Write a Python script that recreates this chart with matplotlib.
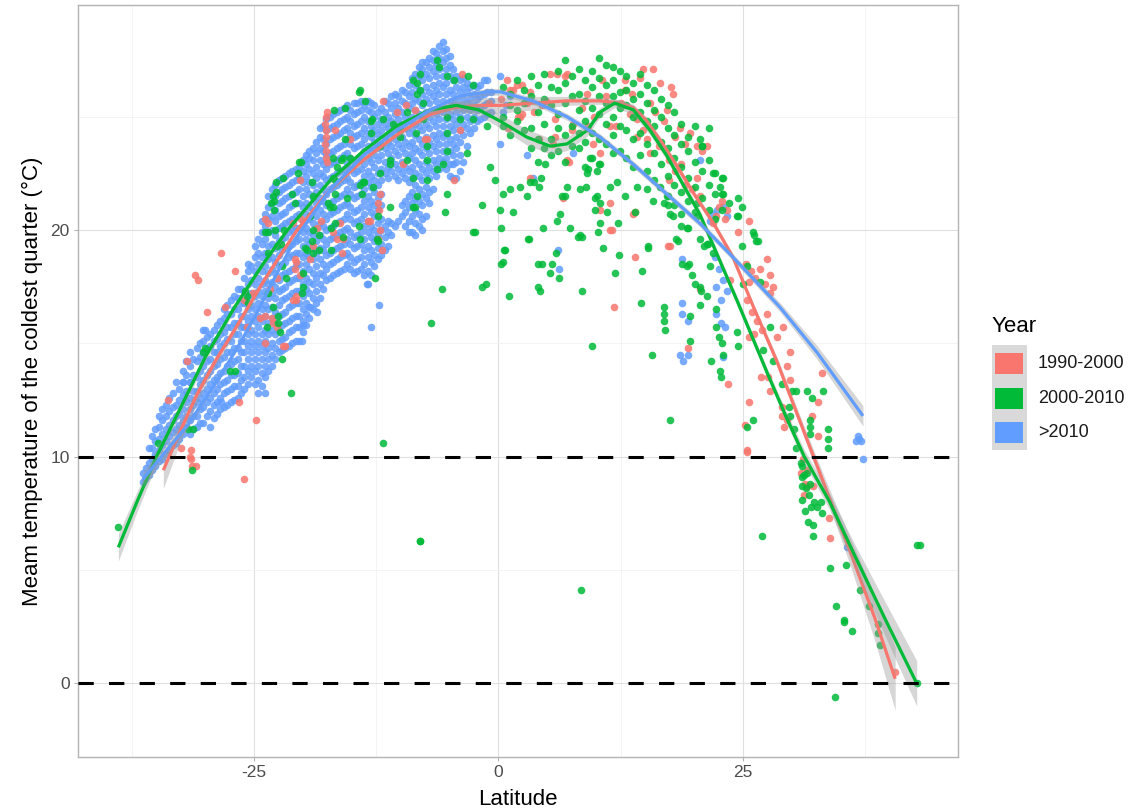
import matplotlib
matplotlib.use("Agg")
import matplotlib.pyplot as plt
from matplotlib.patches import Rectangle

plt.rcParams['font.family'] = ['Liberation Sans', 'DejaVu Sans']
plt.rcParams['axes.unicode_minus'] = False

# ---------------- data ----------------
years = ["1990-2000", "2000-2010", ">2010"]
colors = {"1990-2000": "#F8766D", "2000-2010": "#00BA38", ">2010": "#619CFF"}

x_ticks = [-25, 0, 25]
y_ticks = [0, 10, 20]
x_label = "Latitude"
y_label = "Meam temperature of the coldest quarter (\u00b0C)"
hlines = [0, 10]

# dense >2010 cloud, south of the equator: latitude columns and their temperatures
blue_col_lat = [-36.4, -35.8, -35.1, -34.4, -33.7, -33.0, -32.3, -31.6, -30.9, -30.2,
                -29.5, -28.8, -28.1, -27.4, -26.7, -26.0, -25.3, -24.6, -23.9, -23.2,
                -22.5, -21.8, -21.1, -20.4, -19.7, -19.0, -18.3, -17.6, -16.9, -16.2,
                -15.5, -14.8, -14.1, -13.4, -12.7, -12.0, -11.3, -10.6, -9.9, -9.2,
                -8.5, -7.8, -7.1, -6.4, -5.7, -5.0, -4.3, -3.6, -2.9, -2.2, -1.5, -0.8]
blue_col_temps = [
    [8.9, 9.3],
    [9.2, 9.7, 10.4],
    [9.6, 10.1, 10.7, 11.2],
    [9.9, 10.5, 11.0, 11.6, 12.1],
    [10.3, 10.9, 11.4, 12.0, 12.6],
    [10.6, 11.2, 11.8, 12.3, 13.3],
    [11.0, 11.6, 12.1, 12.7, 13.3, 13.8],
    [11.0, 11.6, 12.1, 12.6, 13.3, 14.0, 14.6],
    [11.3, 11.8, 12.4, 12.9, 13.5, 14.2, 14.8],
    [11.5, 12.2, 12.8, 13.4, 14.0, 14.6, 15.1, 15.6],
    [11.3, 12.0, 12.6, 13.2, 13.8, 14.3, 14.9, 15.4],
    [11.9, 12.4, 13.0, 13.5, 14.1, 14.6, 15.2, 15.8],
    [12.2, 12.8, 13.3, 13.8, 14.4, 15.0, 15.5, 16.1, 16.5],
    [12.4, 13.0, 13.6, 14.1, 14.6, 15.1, 15.7, 16.3, 16.9],
    [12.6, 13.1, 13.7, 14.3, 14.8, 15.4, 15.9, 16.5, 17.0, 17.4],
    [13.0, 13.5, 14.0, 14.6, 15.1, 15.7, 16.2, 16.8, 17.3, 17.9],
    [13.5, 14.0, 14.6, 15.1, 15.6, 16.2, 16.7, 17.2, 17.8, 18.4],
    [12.8, 13.4, 14.0, 14.6, 15.1, 15.7, 16.2, 16.8, 17.3, 17.9, 18.5, 19.0, 19.6],
    [13.5, 14.0, 14.6, 15.1, 15.6, 16.2, 16.7, 17.3, 17.8, 18.4, 19.0, 19.6, 20.2, 20.7],
    [14.0, 14.5, 15.0, 15.6, 16.1, 16.6, 17.2, 17.7, 18.3, 18.8, 19.4, 20.0, 20.6, 21.2, 21.8],
    [14.6, 15.1, 15.6, 16.2, 16.7, 17.3, 17.8, 18.4, 18.9, 19.5, 20.1, 20.6, 21.2, 21.7, 22.2],
    [14.8, 15.3, 15.9, 16.4, 17.0, 17.5, 18.1, 18.6, 19.2, 19.7, 20.3, 20.8, 21.4, 21.9, 22.4],
    [15.0, 15.6, 16.1, 16.7, 17.2, 17.8, 18.3, 18.9, 19.4, 20.0, 20.5, 21.1, 21.6, 22.1, 22.6],
    [15.1, 15.7, 16.2, 16.8, 17.3, 17.9, 18.5, 19.0, 19.6, 20.1, 20.7, 21.2, 21.8, 22.3, 22.8],
    [15.8, 16.3, 16.8, 17.4, 17.9, 18.5, 19.0, 19.6, 20.1, 20.7, 21.2, 21.8, 22.4, 22.9, 23.3],
    [16.5, 17.0, 17.6, 18.1, 18.7, 19.2, 19.8, 20.3, 20.9, 21.4, 22.0, 22.5, 23.1, 23.6],
    [17.0, 17.6, 18.1, 18.7, 19.2, 19.8, 20.3, 20.9, 21.4, 22.0, 22.5, 23.1, 23.6, 24.1, 24.5],
    [17.8, 18.3, 18.9, 19.4, 20.0, 20.5, 21.1, 21.6, 22.2, 22.7, 23.3, 23.8, 24.4, 24.9],
    [18.0, 18.6, 19.1, 19.7, 20.2, 20.8, 21.3, 21.9, 22.4, 23.0, 23.5, 24.1, 24.6, 25.1],
    [18.2, 18.8, 19.3, 19.9, 20.4, 21.0, 21.5, 22.1, 22.6, 23.2, 23.7, 24.3, 24.8, 25.3],
    [18.5, 19.0, 19.6, 20.1, 20.7, 21.2, 21.8, 22.3, 22.9, 23.4, 24.0, 24.5, 25.0, 25.5],
    [18.1, 18.6, 19.2, 19.7, 20.3, 20.8, 21.4, 21.9, 22.5, 23.0, 23.6, 24.1, 24.6, 25.1, 25.6],
    [18.3, 18.8, 19.4, 19.9, 20.5, 21.0, 21.6, 22.1, 22.7, 23.2, 23.8, 24.3, 24.8, 25.3, 25.7],
    [17.6, 18.2, 18.8, 19.3, 19.9, 20.4, 21.0, 21.5, 22.1, 22.6, 23.2, 23.7, 24.3, 24.8, 25.3, 25.7],
    [18.4, 18.9, 19.5, 20.0, 20.6, 21.1, 21.7, 22.2, 22.8, 23.3, 23.9, 24.4, 25.0, 25.5],
    [18.9, 19.4, 20.0, 20.5, 21.1, 21.6, 22.2, 22.7, 23.3, 23.8, 24.4, 24.9, 25.4],
    [19.3, 19.9, 20.4, 22.3, 22.8, 23.4, 23.9, 24.5, 25.0, 25.6],
    [20.2, 22.4, 22.9, 23.5, 24.0, 24.6, 25.1, 25.6, 26.0],
    [20.6, 21.1, 22.5, 23.0, 23.6, 24.1, 24.7, 25.2, 25.7, 26.2],
    [19.9, 20.4, 21.0, 21.5, 22.1, 22.6, 23.2, 23.7, 24.3, 24.8, 25.4, 25.9, 26.4],
    [19.8, 20.3, 20.9, 21.4, 22.0, 22.5, 23.1, 23.6, 24.2, 24.7, 25.3, 25.8, 26.4, 26.9],
    [20.0, 20.5, 21.1, 21.6, 22.2, 22.7, 23.3, 23.8, 24.4, 24.9, 25.5, 26.0, 26.6, 27.1, 27.4],
    [21.2, 21.7, 22.3, 22.8, 23.4, 23.9, 24.5, 25.0, 25.6, 26.1, 26.7, 27.2, 27.6],
    [22.4, 22.9, 23.5, 24.0, 24.6, 25.1, 25.7, 26.2, 26.8, 27.3, 27.8],
    [23.0, 23.5, 24.1, 24.6, 25.2, 25.7, 26.3, 26.8, 27.4, 27.9, 28.3],
    [22.4, 22.9, 23.5, 24.0, 24.6, 25.1, 25.7, 26.2, 26.8, 27.3, 27.7],
    [22.3, 23.0, 23.6, 24.1, 24.7, 25.2, 25.8, 26.3, 26.8],
    [23.0, 24.2, 24.7, 25.3, 25.8, 26.3, 26.7],
    [24.3, 24.8, 25.3, 25.8, 26.3],
    [24.8, 25.3, 25.8, 26.3],
    [25.0, 25.5, 26.0, 26.6],
    [25.2, 25.7, 26.1],
]

# second, staggered set of >2010 columns filling the same cloud
blue_col2_lat = [-36.1, -35.45, -34.75, -34.05, -33.35, -32.65, -31.95, -31.25, -30.55, -29.85,
                 -29.15, -28.45, -27.75, -27.05, -26.35, -25.65, -24.95, -24.25, -23.55, -22.85,
                 -22.15, -21.45, -20.75, -20.05, -19.35, -18.65, -17.95, -17.25, -16.55, -15.85,
                 -15.15, -14.45, -13.75, -13.05, -12.35, -11.65, -10.95, -10.25, -9.55, -8.85,
                 -8.15, -7.45, -6.75, -6.05, -5.35, -4.65, -3.95, -3.25, -2.55, -1.85, -1.15]
blue_col2_temps = [
    [9.1, 9.5],
    [9.4, 9.9, 10.4, 10.9],
    [9.8, 10.3, 10.8, 11.3, 11.8],
    [10.1, 10.7, 11.2, 11.8, 12.3],
    [10.5, 11.1, 11.6, 12.2, 12.8],
    [10.8, 11.4, 11.9, 12.5, 13.0],
    [11.3, 11.8, 12.4, 12.9, 13.6, 14.2],
    [11.2, 11.8, 12.3, 12.9, 13.6, 14.3],
    [11.5, 12.1, 12.6, 13.2, 13.8, 14.4, 15.0],
    [11.8, 12.4, 13.0, 13.6, 14.2, 14.8, 15.3],
    [11.7, 12.3, 12.8, 13.4, 14.0, 14.6, 15.1, 15.6],
    [12.1, 12.6, 13.2, 13.7, 14.3, 14.9, 15.4, 16.0],
    [12.3, 12.9, 13.4, 14.0, 14.6, 15.2, 15.7, 16.3, 16.7],
    [12.5, 13.1, 13.6, 14.2, 14.8, 15.4, 15.9, 16.5, 17.1],
    [12.8, 13.4, 14.0, 14.6, 15.1, 15.7, 16.2, 16.8, 17.4],
    [13.2, 13.8, 14.3, 14.9, 15.4, 16.0, 16.5, 17.1, 17.6, 18.2],
    [13.2, 13.8, 14.3, 14.9, 15.4, 16.0, 16.5, 17.1, 17.6, 18.2, 18.8, 19.3],
    [13.1, 13.7, 14.3, 14.9, 15.4, 16.0, 16.5, 17.1, 17.6, 18.2, 18.8, 19.4, 19.9, 20.4],
    [13.8, 14.3, 14.8, 15.4, 15.9, 16.5, 17.0, 17.6, 18.1, 18.7, 19.3, 19.9, 20.5, 21.0, 21.5],
    [14.3, 14.8, 15.4, 15.9, 16.4, 17.0, 17.5, 18.1, 18.6, 19.2, 19.8, 20.4, 20.9, 21.5, 22.0],
    [14.7, 15.2, 15.8, 16.3, 16.9, 17.4, 18.0, 18.5, 19.1, 19.6, 20.2, 20.7, 21.3, 21.8, 22.3],
    [14.9, 15.5, 16.0, 16.6, 17.1, 17.7, 18.2, 18.8, 19.3, 19.9, 20.4, 21.0, 21.5, 22.0, 22.5],
    [15.1, 15.7, 16.2, 16.8, 17.3, 17.9, 18.4, 19.0, 19.5, 20.1, 20.6, 21.2, 21.7, 22.2, 22.7],
    [15.5, 16.0, 16.5, 17.1, 17.6, 18.2, 18.8, 19.3, 19.9, 20.4, 21.0, 21.5, 22.1, 22.6, 23.1],
    [16.1, 16.6, 17.2, 17.7, 18.3, 18.8, 19.4, 19.9, 20.5, 21.0, 21.6, 22.1, 22.7, 23.2, 23.5],
    [16.8, 17.3, 17.9, 18.4, 19.0, 19.5, 20.1, 20.6, 21.2, 21.7, 22.3, 22.8, 23.4, 23.9],
    [17.4, 18.0, 18.5, 19.1, 19.6, 20.2, 20.7, 21.3, 21.8, 22.4, 22.9, 23.5, 24.0, 24.6],
    [17.9, 18.5, 19.0, 19.6, 20.1, 20.7, 21.2, 21.8, 22.3, 22.9, 23.4, 24.0, 24.5, 25.0],
    [18.1, 18.7, 19.2, 19.8, 20.3, 20.9, 21.4, 22.0, 22.5, 23.1, 23.6, 24.2, 24.7, 25.2],
    [18.3, 18.9, 19.4, 20.0, 20.5, 21.1, 21.6, 22.2, 22.7, 23.3, 23.8, 24.4, 24.9, 25.4],
    [18.3, 18.8, 19.4, 19.9, 20.5, 21.0, 21.6, 22.1, 22.7, 23.2, 23.8, 24.3, 24.8, 25.3],
    [18.2, 18.7, 19.3, 19.8, 20.4, 20.9, 21.5, 22.0, 22.6, 23.1, 23.7, 24.2, 24.7, 25.2, 25.6],
    [18.0, 18.5, 19.1, 19.6, 20.2, 20.7, 21.3, 21.8, 22.4, 22.9, 23.5, 24.0, 24.5, 25.0, 25.5],
    [18.0, 18.6, 19.1, 19.7, 20.2, 20.8, 21.3, 21.9, 22.4, 23.0, 23.5, 24.1, 24.6, 25.2, 25.6],
    [18.7, 19.2, 19.8, 20.3, 20.9, 21.4, 22.0, 22.5, 23.1, 23.6, 24.2, 24.7, 25.2],
    [19.1, 19.7, 20.2, 22.5, 23.0, 23.6, 24.1, 24.7, 25.2, 25.7],
    [19.8, 20.3, 22.6, 23.2, 23.7, 24.3, 24.8, 25.4, 25.9],
    [20.4, 22.2, 22.7, 23.3, 23.8, 24.4, 24.9, 25.4, 25.9],
    [20.2, 20.8, 21.3, 22.3, 22.8, 23.4, 23.9, 24.5, 25.0, 25.6, 26.1],
    [19.9, 20.6, 21.2, 21.7, 22.3, 22.8, 23.4, 23.9, 24.5, 25.0, 25.6, 26.1, 26.7],
    [20.2, 20.7, 21.3, 21.8, 22.4, 22.9, 23.5, 24.0, 24.6, 25.1, 25.7, 26.2, 26.8, 27.2],
    [20.6, 21.4, 21.9, 22.5, 23.0, 23.6, 24.1, 24.7, 25.2, 25.8, 26.3, 26.9, 27.4],
    [21.8, 22.6, 23.1, 23.7, 24.2, 24.8, 25.3, 25.9, 26.4, 27.0, 27.5, 27.9],
    [22.7, 23.2, 23.8, 24.3, 24.9, 25.4, 26.0, 26.5, 27.1, 27.6, 28.1],
    [22.7, 23.2, 23.8, 24.3, 24.9, 25.4, 26.0, 26.5, 27.1, 27.6, 28.0],
    [22.3, 22.9, 23.3, 23.8, 24.4, 24.9, 25.5, 26.0, 26.6, 27.1],
    [22.6, 23.3, 23.9, 24.4, 25.0, 25.5, 26.1, 26.6],
    [23.7, 24.5, 25.0, 25.6, 26.1, 26.5],
    [24.5, 25.0, 25.5, 26.0, 26.4],
    [24.9, 25.4, 25.9, 26.4],
    [25.1, 25.6, 26.1],
]

blue_extra = [(-12.2, 16.7), (-13.0, 15.7), (-13.5, 17.6), (-18.6, 16.4), (-19.3, 16.6),
              (-20.0, 15.8), (-20.1, 15.1), (-30.0, 15.6), (-25.6, 18.5), (-36.2, 9.0),
              (-32.3, 13.3), (-31.6, 13.3), (-28.4, 12.4), (-23.9, 12.8)]

blue_north = [(0.5, 25.2), (1.2, 25.9), (0.8, 25.5), (-1.2, 26.6), (0.2, 26.8), (0.2, 23.8),
              (2.9, 23.3), (3.5, 22.3), (7.6, 23.4), (6.1, 19.1), (6.2, 18.3),
              (20.6, 23.1), (22.0, 20.7), (21.6, 20.4), (22.4, 20.9), (23.0, 21.0), (23.4, 20.6),
              (22.2, 18.8), (22.6, 18.3), (23.0, 17.8), (23.4, 17.3), (22.8, 16.9), (22.3, 17.5),
              (22.3, 16.3), (22.8, 15.9), (23.2, 15.7), (18.8, 16.8), (18.8, 16.3), (19.4, 16.0),
              (18.6, 14.5), (19.4, 14.5), (18.9, 14.2), (23.0, 14.4), (18.8, 18.7),
              (36.6, 10.7), (36.8, 10.9), (36.9, 10.8), (37.1, 10.7), (37.3, 9.9), (35.7, 6.0)]

red_south = [(-17.7, 23.2), (-17.6, 23.5), (-17.8, 23.8), (-17.7, 24.1), (-17.6, 24.4),
             (-17.8, 24.7), (-17.7, 25.0), (-17.5, 25.2), (-17.5, 23.0),
             (-28.4, 19.0), (-31.1, 18.0), (-30.8, 17.8), (-27.0, 18.2), (-29.8, 16.4),
             (-28.0, 16.6), (-31.9, 14.2), (-33.8, 12.5), (-26.6, 12.4), (-24.8, 11.6),
             (-32.5, 10.4), (-31.5, 10.3), (-31.5, 9.9), (-31.4, 9.6), (-31.0, 9.6), (-31.6, 10.0),
             (-26.0, 9.0), (-21.8, 14.9), (-20.7, 16.9), (-20.8, 18.7), (-24.4, 16.1),
             (-20.3, 22.2), (-23.9, 20.5), (-23.6, 20.3), (-21.0, 20.3), (-20.2, 20.5),
             (-18.6, 20.1), (-18.2, 20.4), (-16.5, 19.6), (-15.9, 19.6), (-16.0, 19.0),
             (-13.4, 20.4), (-11.8, 25.7), (-7.3, 24.0), (-9.8, 22.9), (-20.7, 18.6),
             (-19.3, 18.7), (-20.8, 18.3), (-20.3, 18.0), (-20.7, 17.1), (-21.0, 16.9),
             (-22.7, 17.9), (-23.4, 17.4), (-23.9, 16.2), (-23.2, 16.1), (-23.1, 15.9),
             (-22.7, 15.7), (-22.1, 14.9), (-23.9, 15.0), (-25.7, 15.7), (-26.0, 16.9),
             (-25.1, 17.2), (-16.7, 24.4), (-15.2, 24.0), (-16.2, 20.3), (-16.9, 19.9),
             (-19.0, 19.3), (-13.1, 20.4), (-12.1, 20.0), (-12.3, 19.6), (-11.9, 19.1),
             (-12.1, 21.6), (-12.3, 21.2), (-12.2, 20.9), (-3.7, 26.9), (-3.9, 24.4),
             (-4.6, 22.2), (-7.5, 24.0), (-8.5, 25.3), (-10.4, 25.2), (-9.5, 25.5)]

red_north = [(0.9, 26.6), (1.5, 26.2), (1.9, 26.4), (2.4, 25.1), (2.9, 25.6), (5.3, 26.9),
             (6.0, 26.9), (7.0, 26.9), (4.5, 25.5), (2.0, 25.0), (5.6, 23.8), (7.6, 24.7),
             (3.2, 22.3), (7.0, 23.1), (6.6, 21.4), (6.8, 26.8), (10.6, 26.6), (12.9, 26.2),
             (9.1, 26.0), (3.2, 26.1), (2.4, 26.4), (1.2, 26.2), (4.9, 25.7), (3.6, 25.2),
             (2.2, 25.0), (5.8, 24.9), (5.8, 24.1), (4.1, 24.0), (7.5, 24.4), (9.2, 24.6),
             (9.7, 23.8), (10.4, 23.4), (11.4, 24.6), (12.0, 24.6), (13.5, 25.1), (14.2, 24.1),
             (7.2, 23.0), (11.4, 21.2), (10.4, 20.9), (13.8, 20.7), (17.4, 19.3), (14.0, 18.8),
             (11.4, 20.0), (14.8, 27.1), (15.8, 27.1), (14.5, 26.7), (16.5, 26.5), (17.7, 26.3),
             (17.9, 26.0), (17.2, 25.3), (18.6, 24.5), (18.1, 24.1), (19.6, 24.3), (19.1, 23.8),
             (14.2, 24.9), (14.8, 24.4), (15.2, 24.0), (16.4, 23.7), (15.5, 23.4), (17.5, 23.1),
             (18.7, 22.9), (18.1, 22.6), (17.5, 22.2), (19.1, 22.0), (19.8, 21.8), (20.6, 21.5),
             (20.3, 22.3), (20.3, 23.7), (20.8, 23.5), (21.3, 23.7), (13.0, 26.6), (11.0, 25.9),
             (8.5, 25.4), (9.8, 25.0), (12.5, 25.6), (15.5, 25.6), (16.9, 24.8), (16.0, 25.2),
             (13.7, 26.0), (0.3, 25.8), (-1.0, 25.6), (1.0, 24.5),
             (22.0, 20.3), (22.3, 20.6), (22.6, 21.0), (22.9, 21.3), (23.2, 20.5), (23.4, 20.9),
             (24.5, 19.9), (25.6, 20.4), (27.5, 18.7), (25.3, 18.5), (25.8, 18.2), (26.3, 17.9),
             (26.8, 18.3), (27.3, 17.6), (27.8, 18.0), (28.1, 17.5), (25.6, 17.7), (27.8, 17.2),
             (25.4, 16.9), (25.9, 16.4), (26.5, 16.0), (27.0, 15.6), (27.5, 16.3), (26.2, 15.4),
             (29.1, 15.7), (28.5, 15.3), (25.6, 15.3), (29.8, 14.6), (29.5, 14.0), (26.9, 13.5),
             (27.6, 13.5), (29.8, 13.4), (27.8, 12.9), (29.0, 12.2), (29.0, 11.8), (29.2, 11.3),
             (29.5, 11.6), (25.6, 12.4), (25.2, 11.4), (25.4, 10.3), (32.7, 12.4), (33.1, 13.7),
             (32.1, 11.8), (32.7, 10.9), (23.5, 13.2), (19.4, 14.8), (20.6, 17.4), (17.6, 19.3),
             (11.8, 16.6), (14.0, 20.8), (11.6, 20.0), (23.7, 17.8), (31.6, 8.7), (31.6, 9.4),
             (31.4, 8.8), (32.2, 8.7), (31.3, 8.3), (33.8, 7.3), (33.9, 6.4), (40.6, 0.5),
             (25.4, 10.2), (31.2, 9.9), (31.0, 9.3)]

green_south = [(-38.9, 6.9), (-34.8, 10.6), (-31.8, 11.2), (-31.3, 11.2), (-31.4, 9.4),
               (-30.0, 14.8), (-30.2, 14.6), (-27.5, 13.8), (-27.0, 13.8), (-25.9, 17.3),
               (-25.7, 17.1), (-25.6, 16.8), (-23.6, 19.0), (-22.7, 19.3), (-22.2, 18.4),
               (-21.7, 17.9), (-23.6, 17.2), (-23.1, 16.6), (-22.6, 16.2), (-23.7, 15.7),
               (-22.4, 15.5), (-22.2, 14.3), (-21.2, 12.8), (-22.6, 15.9), (-19.6, 19.1),
               (-19.0, 19.0), (-20.0, 18.1), (-20.0, 17.5), (-20.1, 17.2), (-12.6, 17.9),
               (-13.0, 24.3), (-13.0, 24.8), (-14.3, 26.1), (-16.8, 25.3), (-15.7, 25.4),
               (-15.7, 24.0), (-8.3, 26.0), (-8.3, 26.5), (-8.0, 26.9), (-8.7, 26.6),
               (-14.2, 26.2), (-20.5, 22.5), (-20.4, 23.0), (-23.0, 20.9), (-23.0, 21.3),
               (-22.8, 21.7), (-22.8, 22.1), (-23.1, 21.5), (-21.1, 21.6), (-21.9, 20.0),
               (-23.6, 19.9), (-16.9, 23.2), (-16.5, 22.8), (-15.2, 23.2), (-13.8, 22.1),
               (-12.8, 21.9), (-17.2, 21.0), (-16.7, 20.3), (-19.3, 20.6), (-18.4, 19.8),
               (-19.1, 19.5), (-17.1, 19.1), (-14.2, 19.6), (-12.4, 19.6), (-11.8, 24.9),
               (-10.1, 24.1), (-8.7, 22.3), (-9.4, 23.1), (-11.1, 23.1), (-12.1, 23.7),
               (-7.7, 24.9), (-7.3, 23.1), (-8.3, 21.5), (-8.7, 21.0), (-9.4, 25.2),
               (-10.8, 24.7), (-13.7, 25.7), (-12.9, 24.9), (-10.1, 24.4), (-8.4, 24.3),
               (-7.3, 23.7), (-6.3, 27.5), (-6.1, 27.2), (-5.3, 26.8), (-4.6, 26.6),
               (-3.1, 26.8), (-2.6, 26.4), (-8.0, 26.2), (-7.7, 25.6), (-5.3, 25.0),
               (-3.9, 24.9), (-2.6, 24.9), (-1.2, 24.6), (-5.3, 24.3), (-5.3, 23.5),
               (-6.3, 22.7), (-3.2, 23.4), (-7.3, 22.2), (-8.5, 21.0), (-5.5, 20.8),
               (-11.1, 22.9), (-12.1, 22.5), (-14.2, 22.0), (-14.0, 21.6), (-15.9, 23.2),
               (-16.9, 22.3), (-15.5, 21.4), (-16.9, 21.0), (-14.3, 20.2), (-11.1, 21.0),
               (-19.1, 22.1), (-19.0, 21.5), (-19.8, 19.2), (-18.4, 19.1), (-15.9, 19.7),
               (-12.3, 19.5), (-12.3, 20.6), (-20.2, 23.0), (-23.3, 21.2), (-22.1, 22.3),
               (-23.9, 19.9), (-22.3, 19.4), (-17.1, 20.1), (-19.0, 20.0), (-16.1, 23.1),
               (-13.9, 22.1), (-16.7, 22.2), (-16.7, 21.6), (-17.4, 21.2), (-20.8, 21.2),
               (-22.9, 20.0), (-11.8, 10.6), (-8.0, 6.3), (-6.9, 15.9)]

green_north = [(0.5, 26.3), (0.5, 25.0), (0.5, 24.6), (1.2, 26.0), (1.2, 25.5), (1.2, 24.2),
               (1.9, 26.6), (1.9, 25.3), (1.9, 24.8), (2.6, 26.2), (2.6, 25.6), (2.6, 24.4),
               (3.3, 26.8), (3.3, 25.9), (3.3, 24.5), (3.3, 23.6), (4.0, 26.4), (4.0, 25.2),
               (4.0, 24.0), (4.0, 23.0), (4.7, 26.9), (4.7, 25.8), (4.7, 24.7), (4.7, 23.6),
               (5.4, 26.3), (5.4, 25.5), (5.4, 24.0), (5.4, 23.3), (6.1, 27.0), (6.1, 26.2),
               (6.1, 25.1), (6.1, 24.5), (6.1, 23.5), (6.8, 27.5), (6.8, 26.5), (6.8, 25.6),
               (6.8, 24.2), (6.8, 23.0), (7.5, 26.8), (7.5, 25.9), (7.5, 24.6), (7.5, 23.7),
               (8.2, 27.1), (8.2, 26.0), (8.2, 25.3), (8.2, 24.3), (8.2, 23.6), (8.9, 26.6),
               (8.9, 25.7), (8.9, 24.8), (8.9, 23.9), (8.9, 22.8), (9.6, 27.0), (9.6, 26.3),
               (9.6, 25.4), (9.6, 24.3), (9.6, 23.2), (10.3, 27.6), (10.3, 26.7), (10.3, 25.9),
               (10.3, 25.1), (10.3, 24.0), (10.3, 22.9), (11.0, 27.3), (11.0, 26.4), (11.0, 25.6),
               (11.0, 24.7), (11.0, 23.8), (11.7, 27.2), (11.7, 26.6), (11.7, 25.9), (11.7, 25.0),
               (11.7, 24.2), (11.7, 23.4), (12.4, 27.0), (12.4, 26.1), (12.4, 25.4), (12.4, 24.6),
               (12.4, 23.5), (13.1, 26.8), (13.1, 26.2), (13.1, 25.5), (13.1, 24.4), (13.1, 23.2),
               (13.8, 26.5), (13.8, 25.8), (13.8, 25.0), (13.8, 24.0), (13.8, 22.8), (14.5, 26.9),
               (14.5, 26.0), (14.5, 25.2), (14.5, 24.3), (14.5, 23.3), (15.2, 26.4), (15.2, 25.6),
               (15.2, 24.8), (15.2, 23.8), (15.2, 22.6), (15.9, 26.2), (15.9, 25.3), (15.9, 24.6),
               (15.9, 23.4), (15.9, 22.2), (16.6, 25.8), (16.6, 25.0), (16.6, 23.9), (16.6, 22.9),
               (17.3, 25.5), (17.3, 24.5), (17.3, 23.6), (17.3, 22.4), (17.3, 21.5), (18.0, 25.2),
               (18.0, 24.2), (18.0, 23.2), (18.0, 22.0), (18.0, 21.1), (18.7, 24.7), (18.7, 23.8),
               (18.7, 22.8), (18.7, 21.7), (18.7, 20.7), (19.4, 24.1), (19.4, 23.5), (19.4, 22.3),
               (19.4, 21.3), (19.4, 20.1), (20.1, 24.6), (20.1, 23.0), (20.1, 21.9), (20.1, 20.8),
               (20.8, 23.7), (20.8, 22.6), (20.8, 21.4), (21.5, 24.5), (21.5, 23.1), (21.5, 22.0),
               (21.5, 20.9), (22.2, 22.5), (22.2, 21.6), (22.2, 20.5), (22.9, 22.3), (22.9, 21.6),
               (22.9, 20.9), (23.6, 21.2), (24.5, 21.4), (24.5, 20.6), (24.9, 21.0),
               (-5.3, 21.6), (-5.7, 22.9), (-1.7, 21.1), (-0.4, 22.2), (-2.6, 19.9), (1.2, 21.8),
               (0.5, 21.6), (-0.9, 22.8), (0.2, 20.9), (1.5, 20.8), (0.3, 20.1), (3.0, 19.6),
               (3.6, 22.1), (4.1, 21.9), (4.8, 22.9), (4.4, 22.3), (6.3, 20.7), (6.0, 20.4),
               (6.8, 21.5), (4.6, 20.1), (8.1, 19.7), (9.0, 21.9), (9.9, 21.4), (10.1, 22.6),
               (9.4, 23.2), (9.9, 20.9), (9.1, 22.5), (-2.4, 19.9), (0.6, 19.1), (0.3, 18.5),
               (0.5, 18.6), (-5.8, 17.4), (-1.7, 17.5), (-1.3, 17.6), (1.1, 17.1), (4.0, 18.5),
               (4.5, 18.5), (5.5, 18.5), (5.3, 18.1), (5.9, 19.0), (6.2, 17.9), (4.0, 17.5),
               (4.2, 17.3), (8.5, 19.7), (8.5, 17.3), (9.6, 14.9), (10.2, 19.9), (7.0, 21.9),
               (3.2, 22.1), (2.9, 21.5), (2.2, 21.9), (6.5, 21.5), (7.3, 20.1), (11.4, 21.9),
               (12.1, 22.1), (10.1, 21.5), (10.4, 21.2), (11.1, 20.8), (10.4, 20.3), (12.2, 20.3),
               (12.9, 21.5), (10.4, 22.9), (9.2, 22.7), (8.3, 21.8), (14.2, 21.9), (14.0, 20.8),
               (15.2, 21.8), (15.8, 21.3), (16.5, 21.9), (17.2, 21.5), (17.4, 21.1), (17.9, 20.6),
               (18.7, 20.2), (19.3, 20.1), (20.6, 19.6), (21.4, 19.4), (20.8, 23.7), (20.6, 24.0),
               (22.0, 22.5), (23.0, 22.3), (22.7, 21.9), (23.0, 21.6), (26.2, 19.8), (26.6, 19.5),
               (24.4, 20.6), (3.1, 19.6), (8.3, 19.8), (15.3, 19.3), (18.2, 19.6), (21.0, 19.3),
               (22.0, 19.0), (0.7, 19.1), (-8.0, 6.3), (8.4, 4.1),
               (16.9, 21.2), (17.6, 20.7), (20.3, 20.6), (20.3, 21.2), (21.3, 19.4), (21.6, 18.4),
               (20.6, 17.5), (20.7, 17.3), (20.1, 17.6), (19.5, 18.5), (19.8, 18.0), (21.3, 17.1),
               (20.6, 16.7), (22.3, 16.5), (22.3, 15.7), (22.6, 15.3), (22.9, 15.0), (23.0, 14.5),
               (21.8, 14.2), (22.7, 13.8), (22.8, 13.5), (16.9, 16.0), (16.9, 16.3), (16.9, 16.6),
               (17.0, 15.6), (19.6, 16.2), (19.6, 15.1), (24.4, 15.5), (24.5, 14.9), (15.7, 14.5),
               (14.6, 16.8), (14.7, 18.2), (11.9, 18.1), (12.3, 18.9), (10.7, 19.2), (15.3, 19.2),
               (17.6, 11.6), (18.4, 19.5), (18.8, 18.5), (19.3, 18.4),
               (25.4, 18.4), (26.1, 19.9), (26.4, 19.5), (24.9, 19.3), (25.0, 17.6), (26.8, 17.7),
               (27.8, 15.7), (27.1, 14.7), (28.1, 14.2), (29.0, 13.2), (30.0, 12.9), (30.5, 12.9),
               (31.6, 12.9), (32.1, 12.6), (33.2, 12.9), (29.7, 12.2), (29.8, 11.8), (30.2, 11.2),
               (30.5, 10.4), (31.9, 11.0), (31.9, 11.3), (31.9, 11.6), (33.7, 10.4), (33.7, 10.8),
               (33.7, 11.2), (26.1, 11.6), (25.4, 11.3), (31.1, 8.7), (31.1, 9.1), (31.1, 9.6),
               (31.6, 9.3), (31.9, 8.8), (31.0, 9.7), (31.3, 9.2), (31.5, 8.6), (31.8, 8.3),
               (32.3, 8.0), (32.0, 7.8), (32.6, 7.8), (33.0, 8.0), (31.1, 8.1), (31.4, 7.6),
               (31.7, 7.1), (32.2, 7.0), (32.2, 6.5), (33.1, 7.5), (27.0, 6.5), (33.9, 5.1),
               (35.6, 5.2), (34.5, 3.4), (35.4, 2.7), (35.4, 2.8), (36.2, 2.3), (37.0, 4.1),
               (37.9, 3.4), (38.8, 2.2), (38.8, 2.6), (39.0, 1.7), (34.4, -0.6), (42.8, 6.1),
               (43.1, 6.1), (42.8, 0.0)]

# loess fits: latitude, fitted temperature, half-width of the grey band
red_fit_lat = [-34.3, -32.6, -30.9, -29.0, -27.0, -24.1, -22.0, -20.6, -17.2, -13.8, -10.4, -7.0,
               -4.5, -2.0, 0.2, 3.5, 7.0, 10.4, 12.5, 13.8, 15.0, 16.5, 18.3, 20.0, 22.0, 24.0,
               26.0, 28.5, 31.0, 33.5, 36.0, 38.5, 40.6]
red_fit_t = [9.4, 11.1, 12.7, 14.2, 15.6, 17.7, 19.1, 20.0, 21.8, 23.1, 24.2, 25.1,
             25.4, 25.5, 25.5, 25.6, 25.7, 25.7, 25.6, 25.4, 24.9, 24.0, 22.8, 21.6, 20.3, 18.8,
             16.7, 14.2, 11.4, 8.6, 5.8, 2.9, 0.2]
red_fit_se = [0.8, 0.5, 0.35, 0.25, 0.2, 0.15, 0.15, 0.15, 0.12, 0.12, 0.12, 0.15,
              0.25, 0.35, 0.35, 0.3, 0.2, 0.15, 0.15, 0.15, 0.15, 0.15, 0.15, 0.15, 0.15, 0.15,
              0.15, 0.2, 0.25, 0.35, 0.6, 1.0, 1.4]

green_fit_lat = [-38.9, -37.0, -35.0, -32.6, -30.0, -27.0, -24.1, -21.6, -17.2, -13.8, -10.4, -7.0,
                 -4.3, -2.0, 0.2, 2.9, 5.3, 7.0, 9.1, 10.4, 11.9, 13.8, 15.5, 17.2, 18.9, 20.6,
                 22.3, 24.5, 27.5, 29.5, 31.3, 33.9, 36.5, 39.5, 42.8]
green_fit_t = [6.0, 8.0, 10.0, 12.1, 14.4, 16.6, 18.5, 20.0, 22.2, 23.5, 24.6, 25.3,
               25.5, 25.3, 24.8, 24.1, 23.7, 23.8, 24.4, 25.2, 25.6, 25.3, 24.4, 23.3, 22.0, 20.7,
               19.0, 16.8, 13.7, 11.7, 10.0, 8.0, 5.6, 2.9, 0.0]
green_fit_se = [0.6, 0.45, 0.35, 0.25, 0.2, 0.15, 0.15, 0.12, 0.12, 0.12, 0.12, 0.15,
                0.2, 0.25, 0.3, 0.35, 0.35, 0.3, 0.25, 0.2, 0.2, 0.2, 0.2, 0.2, 0.2, 0.2,
                0.2, 0.2, 0.2, 0.25, 0.3, 0.35, 0.5, 0.75, 1.0]

blue_fit_lat = [-36.4, -34.5, -31.8, -28.7, -26.6, -24.9, -22.9, -20.8, -17.2, -13.8, -10.4, -7.0,
                -4.0, -1.2, 0.2, 3.5, 7.0, 10.4, 13.8, 17.2, 20.6, 24.0, 28.8, 32.6, 37.3]
blue_fit_t = [9.0, 10.0, 11.4, 13.4, 14.9, 16.2, 17.9, 19.6, 21.8, 23.3, 24.4, 25.3,
              25.9, 26.1, 26.1, 25.7, 25.0, 24.1, 22.9, 21.6, 20.3, 18.8, 16.6, 14.6, 11.8]
blue_fit_se = [0.35, 0.25, 0.15, 0.1, 0.1, 0.08, 0.08, 0.08, 0.08, 0.08, 0.08, 0.1,
               0.1, 0.15, 0.15, 0.15, 0.15, 0.15, 0.15, 0.15, 0.15, 0.15, 0.2, 0.3, 0.45]

# ---------------- figure ----------------
W, H = 1129, 810
fig = plt.figure(figsize=(W / 100, H / 100), dpi=100)
L, R, T, B = 78.3, 958.3, 5.0, 756.7
ax = fig.add_axes([L / W, 1 - B / H, (R - L) / W, (B - T) / H])
ax.set_xlim(-43.0, 47.06)
ax.set_ylim(-3.24, 29.93)

ax.set_xticks(x_ticks)
ax.set_yticks(y_ticks)
ax.set_xticks([-37.5, -12.5, 12.5, 37.5], minor=True)
ax.set_yticks([5, 15, 25], minor=True)
ax.grid(which='major', color='#E0E0E0', linewidth=0.8, zorder=0)
ax.grid(which='minor', color='#F0F0F0', linewidth=0.5, zorder=0)
ax.set_axisbelow(True)
for s in ax.spines.values():
    s.set_color('#B3B3B3')
    s.set_linewidth(1.0)
ax.tick_params(which='major', length=3.2, width=0.8, color='#B3B3B3',
               labelcolor='#4D4D4D', labelsize=12.5, pad=3)
ax.tick_params(which='minor', length=0)

pt_size = 30
alpha = 0.85


def scatter_pairs(pairs, col, z):
    ax.scatter([p[0] for p in pairs], [p[1] for p in pairs], s=pt_size, c=col,
               alpha=alpha, linewidths=0, zorder=z)


blue_pairs = [(la, t) for la, ts in zip(blue_col_lat, blue_col_temps) for t in ts]
blue_pairs2 = [(la, t) for la, ts in zip(blue_col2_lat, blue_col2_temps) for t in ts]
scatter_pairs(blue_pairs + blue_pairs2 + blue_extra + blue_north, colors[">2010"], 2)
scatter_pairs(red_south + red_north, colors["1990-2000"], 3)
scatter_pairs(green_south + green_north, colors["2000-2010"], 4)

fits = [(red_fit_lat, red_fit_t, red_fit_se, colors["1990-2000"]),
        (green_fit_lat, green_fit_t, green_fit_se, colors["2000-2010"]),
        (blue_fit_lat, blue_fit_t, blue_fit_se, colors[">2010"])]
z = 5
for la, t, se, col in fits:
    lo = [a - b for a, b in zip(t, se)]
    hi = [a + b for a, b in zip(t, se)]
    ax.fill_between(la, lo, hi, color='#999999', alpha=0.4, linewidth=0, zorder=z)
    ax.plot(la, t, color=col, linewidth=2.3, solid_capstyle='butt', zorder=z + 0.5)
    z += 1

for yv in hlines:
    ax.axhline(yv, color='black', linewidth=2.2, linestyle=(0, (5, 5)), zorder=10)

ax.set_xlabel(x_label, fontsize=16, color='black', labelpad=6)
ax.set_ylabel(y_label, fontsize=16, color='black', labelpad=5)


# ---------------- legend ----------------
def fx(x):
    return x / W


def fy(y):
    return 1 - y / H


fig.text(fx(992), fy(326), "Year", fontsize=16, ha='left', va='center')
fig.add_artist(Rectangle((fx(992), fy(450)), fx(1027) - fx(992), fy(345) - fy(450),
                         transform=fig.transFigure, facecolor='#D9D9D9', edgecolor='none'))
key_tops = [353, 388, 422]
for yr, top in zip(years, key_tops):
    fig.add_artist(Rectangle((fx(995), fy(top + 21)), fx(1023) - fx(995), fy(top) - fy(top + 21),
                             transform=fig.transFigure, facecolor=colors[yr], edgecolor='none'))
    fig.text(fx(1038), fy(top + 10.5), yr, fontsize=13, ha='left', va='center', color='#1A1A1A')

fig.savefig("out.png", dpi=100)
